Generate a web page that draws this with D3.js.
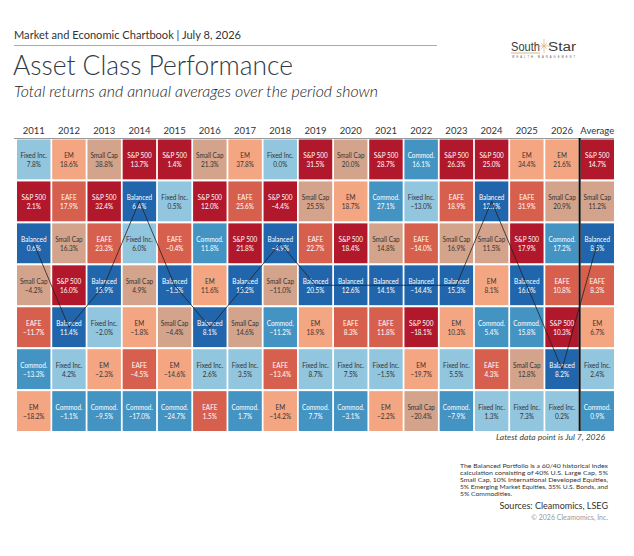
<!DOCTYPE html>
<html>
<head>
<meta charset="utf-8">
<script src="https://cdn.jsdelivr.net/npm/d3@7"></script>
<style>
  body { margin: 0; background: #fff; }
  svg { display: block; font-family: Lato, "Open Sans", sans-serif; }
</style>
</head>
<body>
<div id="chart"></div>
<script>
// colonnes (années + moyenne)
const years = ["2011", "2012", "2013", "2014", "2015", "2016", "2017", "2018", "2019", "2020",
               "2021", "2022", "2023", "2024", "2025", "2026", "Average"];

// classes d'actifs
const assetNames = ["S&P 500", "EAFE", "EM", "Small Cap", "Balanced", "Commod.", "Fixed Inc."];

// rendements totaux (%) par classe, dans l'ordre des colonnes
const sp500    = [2.1, 16.0, 32.4, 13.7, 1.4, 12.0, 21.8, -4.4, 31.5, 18.4, 28.7, -18.1, 26.3, 25.0, 17.9, 10.3, 14.7];
const eafe     = [-11.7, 17.9, 23.3, -4.5, -0.4, 1.5, 25.6, -13.4, 22.7, 8.3, 11.8, -14.0, 18.9, 4.3, 31.9, 10.8, 8.3];
const em       = [-18.2, 18.6, -2.3, -1.8, -14.6, 11.6, 37.8, -14.2, 18.9, 18.7, -2.2, -19.7, 10.3, 8.1, 34.4, 21.6, 6.7];
const smallCap = [-4.2, 16.3, 38.8, 4.9, -4.4, 21.3, 14.6, -11.0, 25.5, 20.0, 14.8, -20.4, 16.9, 11.5, 12.8, 20.9, 11.2];
const balanced = [0.6, 11.4, 15.9, 6.4, -1.5, 8.1, 15.2, -4.9, 20.5, 12.6, 14.1, -14.4, 15.3, 12.1, 16.0, 8.2, 8.5];
const commod   = [-13.3, -1.1, -9.5, -17.0, -24.7, 11.8, 1.7, -11.2, 7.7, -3.1, 27.1, 16.1, -7.9, 5.4, 15.8, 17.2, 0.9];
const fixedInc = [7.8, 4.2, -2.0, 6.0, 0.5, 2.6, 3.5, 0.0, 8.7, 7.5, -1.5, -13.0, 5.5, 1.3, 7.3, 0.2, 2.4];

const series = [sp500, eafe, em, smallCap, balanced, commod, fixedInc];

// couleurs des cases et du texte
const assetColors = ["#b2182b", "#d6604d", "#f4a582", "#d3a48b", "#2166ac", "#4393c3", "#92c5de"];
const textColors  = ["#fff", "#fff", "#333", "#333", "#fff", "#fff", "#333"];

const noteLines = [
  "The Balanced Portfolio is a 60/40 historical index",
  "calculation consisting of 40% U.S. Large Cap, 5%",
  "Small Cap, 10% International Developed Equities,",
  "5% Emerging Market Equities, 35% U.S. Bonds, and",
  "5% Commodities."
];

const width = 634;
const height = 556;

const svg = d3.select("#chart").append("svg")
  .attr("width", width)
  .attr("height", height);

// en-tête
svg.append("text")
  .attr("x", 14).attr("y", 39)
  .attr("font-size", 11.5)
  .attr("fill", "#333")
  .attr("textLength", 227).attr("lengthAdjust", "spacingAndGlyphs")
  .text("Market and Economic Chartbook | July 8, 2026");

svg.append("line")
  .attr("x1", 14).attr("x2", 437)
  .attr("y1", 45.5).attr("y2", 45.5)
  .attr("stroke", "#aaa").attr("stroke-width", 1);

svg.append("text")
  .attr("x", 13).attr("y", 75)
  .attr("font-size", 28)
  .attr("font-weight", 300)
  .attr("fill", "#2f3a46")
  .attr("textLength", 280).attr("lengthAdjust", "spacingAndGlyphs")
  .text("Asset Class Performance");

svg.append("text")
  .attr("x", 14).attr("y", 97)
  .attr("font-size", 16)
  .attr("font-style", "italic")
  .attr("font-weight", 300)
  .attr("fill", "#222")
  .attr("textLength", 364).attr("lengthAdjust", "spacingAndGlyphs")
  .text("Total returns and annual averages over the period shown");

// logo
const logo = svg.append("g").attr("font-family", "Liberation Sans, Arial, sans-serif");
logo.append("text").attr("x", 511).attr("y", 51).attr("font-size", 12.5)
  .attr("fill", "#3c3c3c").attr("textLength", 29).attr("lengthAdjust", "spacingAndGlyphs").text("South");
logo.append("text").attr("x", 548).attr("y", 51).attr("font-size", 12.5)
  .attr("fill", "#3c3c3c").attr("textLength", 28).attr("lengthAdjust", "spacingAndGlyphs").text("Star");
const star = logo.append("g").attr("transform", "translate(544,46)");
d3.range(8).forEach(i => {
  const a = i * Math.PI / 4;
  const r = i % 2 ? 4 : 7;
  star.append("line")
    .attr("x1", 0).attr("y1", 0)
    .attr("x2", r * Math.cos(a)).attr("y2", r * Math.sin(a))
    .attr("stroke", "#d8b07a").attr("stroke-width", 0.7);
});
logo.append("line").attr("x1", 511).attr("x2", 540).attr("y1", 53).attr("y2", 53)
  .attr("stroke", "#c9a46a").attr("stroke-width", 0.8);
logo.append("text").attr("x", 512).attr("y", 57.5).attr("font-size", 2.6)
  .attr("fill", "#555").attr("textLength", 63).attr("lengthAdjust", "spacing").text("WEALTH MANAGEMENT");

// échelles
const x = d3.scaleBand()
  .domain(years)
  .range([17, 614])
  .paddingInner(0.05);

const ranks = d3.range(assetNames.length);
const y = d3.scaleBand()
  .domain(ranks)
  .range([139.5, 431])
  .paddingInner(0.05);

// libellés des années
const xAxis = svg.append("g")
  .attr("transform", "translate(0,138)")
  .call(d3.axisTop(x).tickSize(0).tickPadding(4));
xAxis.select(".domain").remove();
xAxis.selectAll("text")
  .attr("font-family", "Lato, sans-serif")
  .attr("font-size", 9.5)
  .attr("fill", "#333");

svg.append("line")
  .attr("x1", 14).attr("x2", 614)
  .attr("y1", 138.5).attr("y2", 138.5)
  .attr("stroke", "#999").attr("stroke-width", 1);

// classement par colonne
const cells = [];
years.forEach((yr, i) => {
  const col = series.map((s, k) => ({ year: yr, asset: k, value: s[i] }));
  col.sort((a, b) => b.value - a.value);
  col.forEach((d, r) => { d.rank = r; cells.push(d); });
});

const fmt = d3.format(".1f");

const cell = svg.append("g").selectAll("g")
  .data(cells)
  .enter()
  .append("g")
  .attr("transform", d => `translate(${x(d.year)},${y(d.rank)})`);

cell.append("rect")
  .attr("width", x.bandwidth())
  .attr("height", y.bandwidth())
  .attr("fill", d => assetColors[d.asset]);

// texte un peu condensé pour tenir dans la case
const label = cell.append("g")
  .attr("transform", `translate(${x.bandwidth() / 2},0) scale(0.8,1)`)
  .attr("text-anchor", "middle")
  .attr("font-size", 8)
  .attr("fill", d => textColors[d.asset]);

label.append("text")
  .attr("y", 18.5)
  .text(d => assetNames[d.asset]);

label.append("text")
  .attr("y", 27.7)
  .text(d => fmt(d.value) + "%");

// ligne noire avant la moyenne
const sepX = x("Average") - x.step() * x.paddingInner() / 2;
svg.append("line")
  .attr("x1", sepX).attr("x2", sepX)
  .attr("y1", 138).attr("y2", 431)
  .attr("stroke", "#111").attr("stroke-width", 2);

// ligne du portefeuille Balanced
const balancedIdx = assetNames.indexOf("Balanced");
const balPts = cells.filter(d => d.asset === balancedIdx);
const line = d3.line()
  .x(d => x(d.year) + x.bandwidth() / 2)
  .y(d => y(d.rank) + y.bandwidth() / 2);

svg.append("path")
  .datum(balPts)
  .attr("d", line)
  .attr("fill", "none")
  .attr("stroke", "#222")
  .attr("stroke-width", 0.8);

// pied de page
svg.append("text")
  .attr("x", 605).attr("y", 440)
  .attr("text-anchor", "end")
  .attr("font-size", 8.5)
  .attr("font-style", "italic")
  .attr("fill", "#444")
  .text("Latest data point is Jul 7, 2026");

const note = svg.append("g").attr("font-size", 6.4).attr("fill", "#333");
noteLines.forEach((t, i) => {
  const tx = note.append("text")
    .attr("x", 460).attr("y", 468 + i * 7.1)
    .text(t);
  if (i < noteLines.length - 1) {
    tx.attr("textLength", 148).attr("lengthAdjust", "spacingAndGlyphs");
  } else {
    tx.attr("textLength", 52).attr("lengthAdjust", "spacingAndGlyphs");
  }
});

svg.append("text")
  .attr("x", 608).attr("y", 509)
  .attr("text-anchor", "end")
  .attr("font-size", 9)
  .attr("fill", "#333")
  .text("Sources: Cleamomics, LSEG");

svg.append("text")
  .attr("x", 608).attr("y", 520)
  .attr("text-anchor", "end")
  .attr("font-size", 7)
  .attr("fill", "#999")
  .text("© 2026 Cleamomics, Inc.");
</script>
</body>
</html>
